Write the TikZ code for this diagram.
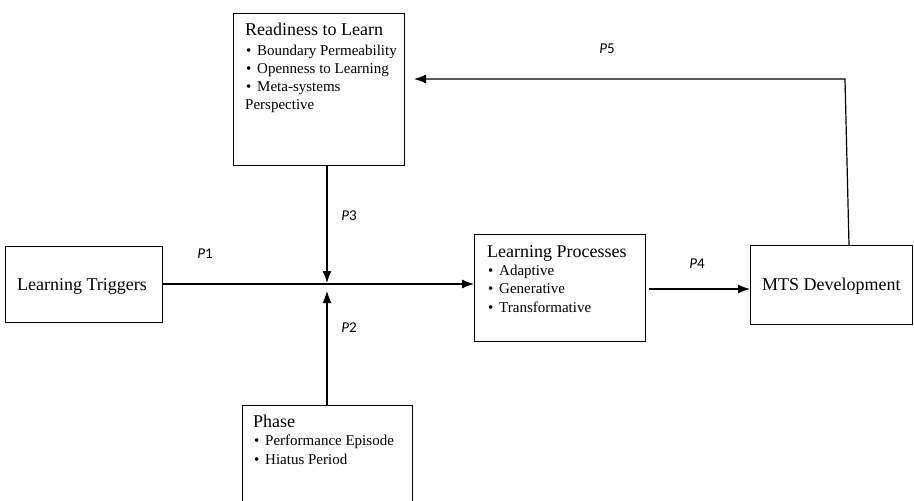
\documentclass[tikz,border=0pt]{standalone}
\usepackage{fontspec}
\setmainfont{Liberation Serif}
\newfontfamily\labfont{Carlito}
\usetikzlibrary{arrows.meta}
\tikzset{
  box/.style={draw, line width=1.1pt, inner sep=0pt, anchor=north west},
  ttl/.style={anchor=base west, inner sep=0pt, font=\fontsize{18}{20}\selectfont},
  itm/.style={anchor=base west, inner sep=0pt, font=\fontsize{15}{17}\selectfont},
  plab/.style={inner sep=0pt, font=\labfont\fontsize{15}{16}\selectfont},
  conn/.style={line width=1.2pt},
  arr/.style={conn, -{Latex[length=12pt,width=9pt]}}
}
\newcommand\bul{\makebox[11pt][l]{\textbullet}}
\begin{document}
\begin{tikzpicture}[x=1pt,y=-1pt]
\useasboundingbox (0,0) rectangle (914,501);
% boxes
\node[box, minimum width=171pt, minimum height=152pt] (rtl) at (233,13) {};
\node[box, minimum width=157pt, minimum height=76pt] (lt) at (5,246) {};
\node[box, minimum width=171pt, minimum height=107pt] (lp) at (474,234) {};
\node[box, minimum width=162pt, minimum height=79pt] (mts) at (750,245) {};
\node[box, minimum width=170pt, minimum height=110pt] (ph) at (242,405) {};
% texts
\node[ttl] (rtlT) at (245,35) {Readiness to Learn};
\node[itm] (rtl1) at (246,55) {\bul Boundary Permeability};
\node[itm] (rtl2) at (246,73) {\bul Openness to Learning};
\node[itm] (rtl3) at (246,91) {\bul Meta-systems};
\node[itm] (rtl4) at (245,109) {Perspective};
\node[ttl, anchor=base] (ltT) at (82,290) {Learning Triggers};
\node[ttl] (lpT) at (487,257) {Learning Processes};
\node[itm] (lp1) at (488,275) {\bul Adaptive};
\node[itm] (lp2) at (488,293) {\bul Generative};
\node[itm] (lp3) at (488,312) {\bul Transformative};
\node[ttl] (mtsT) at (762,290) {MTS Development};
\node[ttl] (phT) at (253,427) {Phase};
\node[itm] (ph1) at (254,445) {\bul Performance Episode};
\node[itm] (ph2) at (254,464) {\bul Hiatus Period};
% labels
\node[plab] (p1) at (205,253.5) {\textit{P}1};
\node[plab] (p2) at (349,328) {\textit{P}2};
\node[plab] (p3) at (349,215.5) {\textit{P}3};
\node[plab] (p4) at (697,264) {\textit{P}4};
\node[plab] (p5) at (607,49) {\textit{P}5};
% connectors
\coordinate (hl) at (0,284);
\coordinate (j1) at (327,283);
\coordinate (j2) at (327,291);
\coordinate (fbTop) at (845,79);
\coordinate (fbEnd) at (414,79);
\coordinate (lpOut) at (649,289);
\draw[arr] (lt.east |- hl) -- (lp.west |- hl);
\draw[arr] (rtl.south -| j1) -- (j1);
\draw[arr] (ph.north -| j2) -- (j2);
\draw[arr] (lpOut) -- (mts.west |- lpOut);
\draw[arr] (mts.north -| 849,0) -- (fbTop) -- (fbEnd);
\end{tikzpicture}
\end{document}
